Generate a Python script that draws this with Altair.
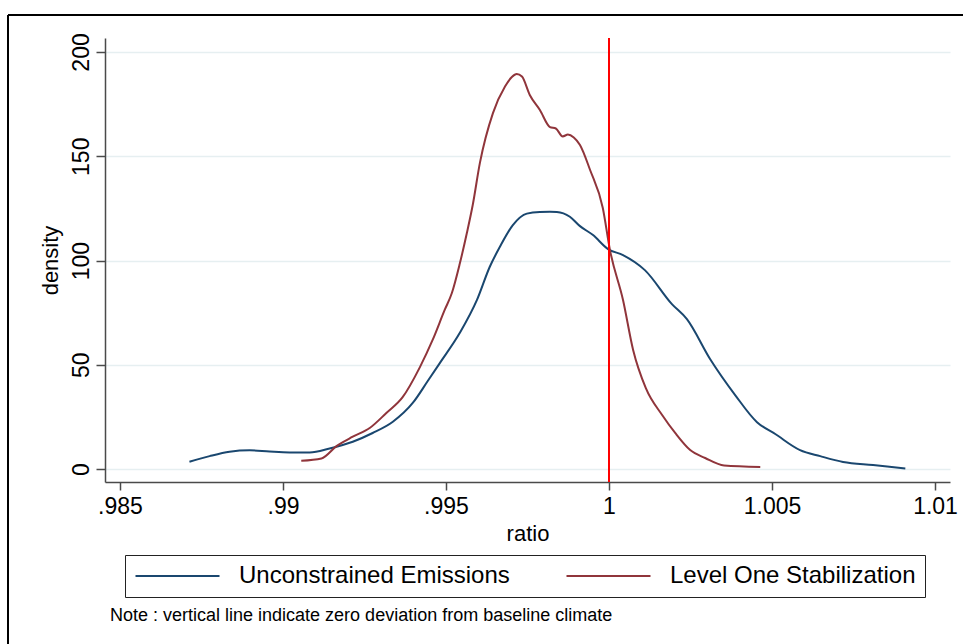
import altair as alt
import pandas as pd

# Kernel density of the ratio, unconstrained emissions scenario
ratio_unconstrained = [
    0.98713, 0.98775, 0.98836, 0.98898, 0.98959, 0.99020, 0.99082, 0.99143,
    0.99214, 0.99275, 0.99337, 0.99398, 0.99444, 0.99481, 0.99542, 0.99595,
    0.99634, 0.99665, 0.99705, 0.99748, 0.99788, 0.99819, 0.99840, 0.99880,
    0.99911, 0.99951, 0.99997, 1.00043, 1.00110, 1.00193, 1.00239, 1.00310,
    1.00387, 1.00454, 1.00510, 1.00586, 1.00648, 1.00718, 1.00810, 1.00909,
]
density_unconstrained = [
    3.5, 6.2, 8.3, 9.0, 8.4, 8.0, 8.0, 9.9,
    13.1, 17.3, 22.7, 31.7, 42.2, 50.8, 65.2, 81.1,
    96.9, 106.5, 117.0, 122.5, 123.3, 123.4, 123.3, 121.0,
    116.5, 112.2, 105.5, 102.6, 95.4, 79.1, 71.9, 52.8,
    35.5, 22.5, 16.8, 9.1, 6.2, 3.4, 1.9, 0.3,
]

# Kernel density of the ratio, level one stabilization scenario
ratio_level_one = [
    0.99056, 0.99118, 0.99164, 0.99214, 0.99266, 0.99317, 0.99367, 0.99420,
    0.99459, 0.99496, 0.99518, 0.99542, 0.99564, 0.99582, 0.99604, 0.99644,
    0.99681, 0.99702, 0.99717, 0.99733, 0.99757, 0.99788, 0.99819, 0.99837,
    0.99858, 0.99874, 0.99892, 0.99911, 0.99942, 0.99981, 1.00003, 1.00043,
    1.00074, 1.00113, 1.00163, 1.00203, 1.00249, 1.00295, 1.00353, 1.00464,
]
density_level_one = [
    4.0, 5.1, 11.0, 15.5, 19.7, 26.9, 34.5, 48.9,
    61.9, 76.3, 84.4, 98.3, 113.2, 126.6, 146.8, 170.7,
    183.4, 188.0, 189.4, 188.2, 179.4, 172.2, 164.0, 163.3,
    159.5, 160.4, 159.0, 155.4, 143.4, 125.2, 105.0, 81.1,
    57.1, 38.8, 25.9, 17.3, 9.1, 5.3, 1.7, 1.0,
]

series_names = ["Unconstrained Emissions", "Level One Stabilization"]
series_colors = ["#1a476f", "#90353b"]
x_ticks = [0.985, 0.99, 0.995, 1.0, 1.005, 1.01]
y_ticks = [0, 50, 100, 150, 200]
baseline_ratio = [1.0]
note_text = "Note : vertical line indicate zero deviation from baseline climate"

FONT = "Liberation Sans"
AXIS_GRAY = "#4a4a4a"
W, H = 845, 444

curves = pd.concat(
    [
        pd.DataFrame({"series": series_names[0], "ratio": ratio_unconstrained,
                      "density": density_unconstrained}),
        pd.DataFrame({"series": series_names[1], "ratio": ratio_level_one,
                      "density": density_level_one}),
    ],
    ignore_index=True,
)

x_scale = alt.Scale(domain=[0.98454, 1.01046], nice=False, zero=False)
y_scale = alt.Scale(domain=[-6.2, 206.7], nice=False, zero=False)

lines = alt.Chart(curves).mark_line(strokeWidth=2, interpolate="monotone").encode(
    x=alt.X(
        "ratio:Q",
        scale=x_scale,
        axis=alt.Axis(
            values=x_ticks,
            title="ratio",
            labelExpr="datum.value < 1 ? replace(format(datum.value, '.3~f'), '0.', '.') : format(datum.value, '.3~f')",
            grid=False,
            tickSize=8,
            labelPadding=5,
            titlePadding=5,
        ),
    ),
    y=alt.Y(
        "density:Q",
        scale=y_scale,
        axis=alt.Axis(
            values=y_ticks,
            title="density",
            labelAngle=-90,
            grid=True,
            gridColor="#e6eff1",
            gridWidth=1.5,
            tickSize=9,
            labelPadding=3,
            titlePadding=8,
        ),
    ),
    color=alt.Color(
        "series:N",
        scale=alt.Scale(domain=series_names, range=series_colors),
        legend=alt.Legend(
            orient="none",
            legendX=20,
            legendY=517,
            direction="horizontal",
            title=None,
            # long horizontal key line drawn to the right of the symbol anchor
            symbolType="M-1,0H7",
            symbolSize=441,
            symbolStrokeWidth=2,
            labelFont=FONT,
            labelFontSize=24,
            labelColor="black",
            labelLimit=500,
            labelOffset=81,
            columnPadding=52,
            padding=9,
            strokeColor="#222222",
        ),
    ),
)

# Reference line at a ratio of one
baseline = alt.Chart(pd.DataFrame({"ratio": baseline_ratio})).mark_rule(
    color="#ff0000", strokeWidth=2
).encode(x=alt.X("ratio:Q", scale=x_scale))

# Outer graph frame (top and left edges)
one_row = pd.DataFrame({"k": [0]})
frame_top = alt.Chart(one_row).mark_rule(color="black", strokeWidth=2).encode(
    x=alt.value(-97), x2=alt.value(880), y=alt.value(-23)
)
frame_left = alt.Chart(one_row).mark_rule(color="black", strokeWidth=2).encode(
    x=alt.value(-97), y=alt.value(-23), y2=alt.value(620)
)

note = alt.Chart(one_row).mark_text(
    align="left", baseline="middle", font=FONT, fontSize=18, color="black"
).encode(x=alt.value(5), y=alt.value(578), text=alt.value(note_text))

chart = (
    alt.layer(lines, baseline, frame_top, frame_left, note)
    .properties(
        width=W,
        height=H,
        padding={"left": 105, "top": 38, "right": 13, "bottom": 162},
        autosize=alt.AutoSizeParams(type="none"),
        background="white",
    )
    .configure_view(stroke=None)
    .configure_axis(
        domainColor=AXIS_GRAY,
        domainWidth=1.5,
        tickColor=AXIS_GRAY,
        tickWidth=1.5,
        labelFont=FONT,
        labelFontSize=23,
        labelColor="black",
        titleFont=FONT,
        titleFontSize=22,
        titleFontWeight="normal",
        titleColor="black",
    )
)

chart.save("out.html", embed_options={"renderer": "svg", "actions": False})
